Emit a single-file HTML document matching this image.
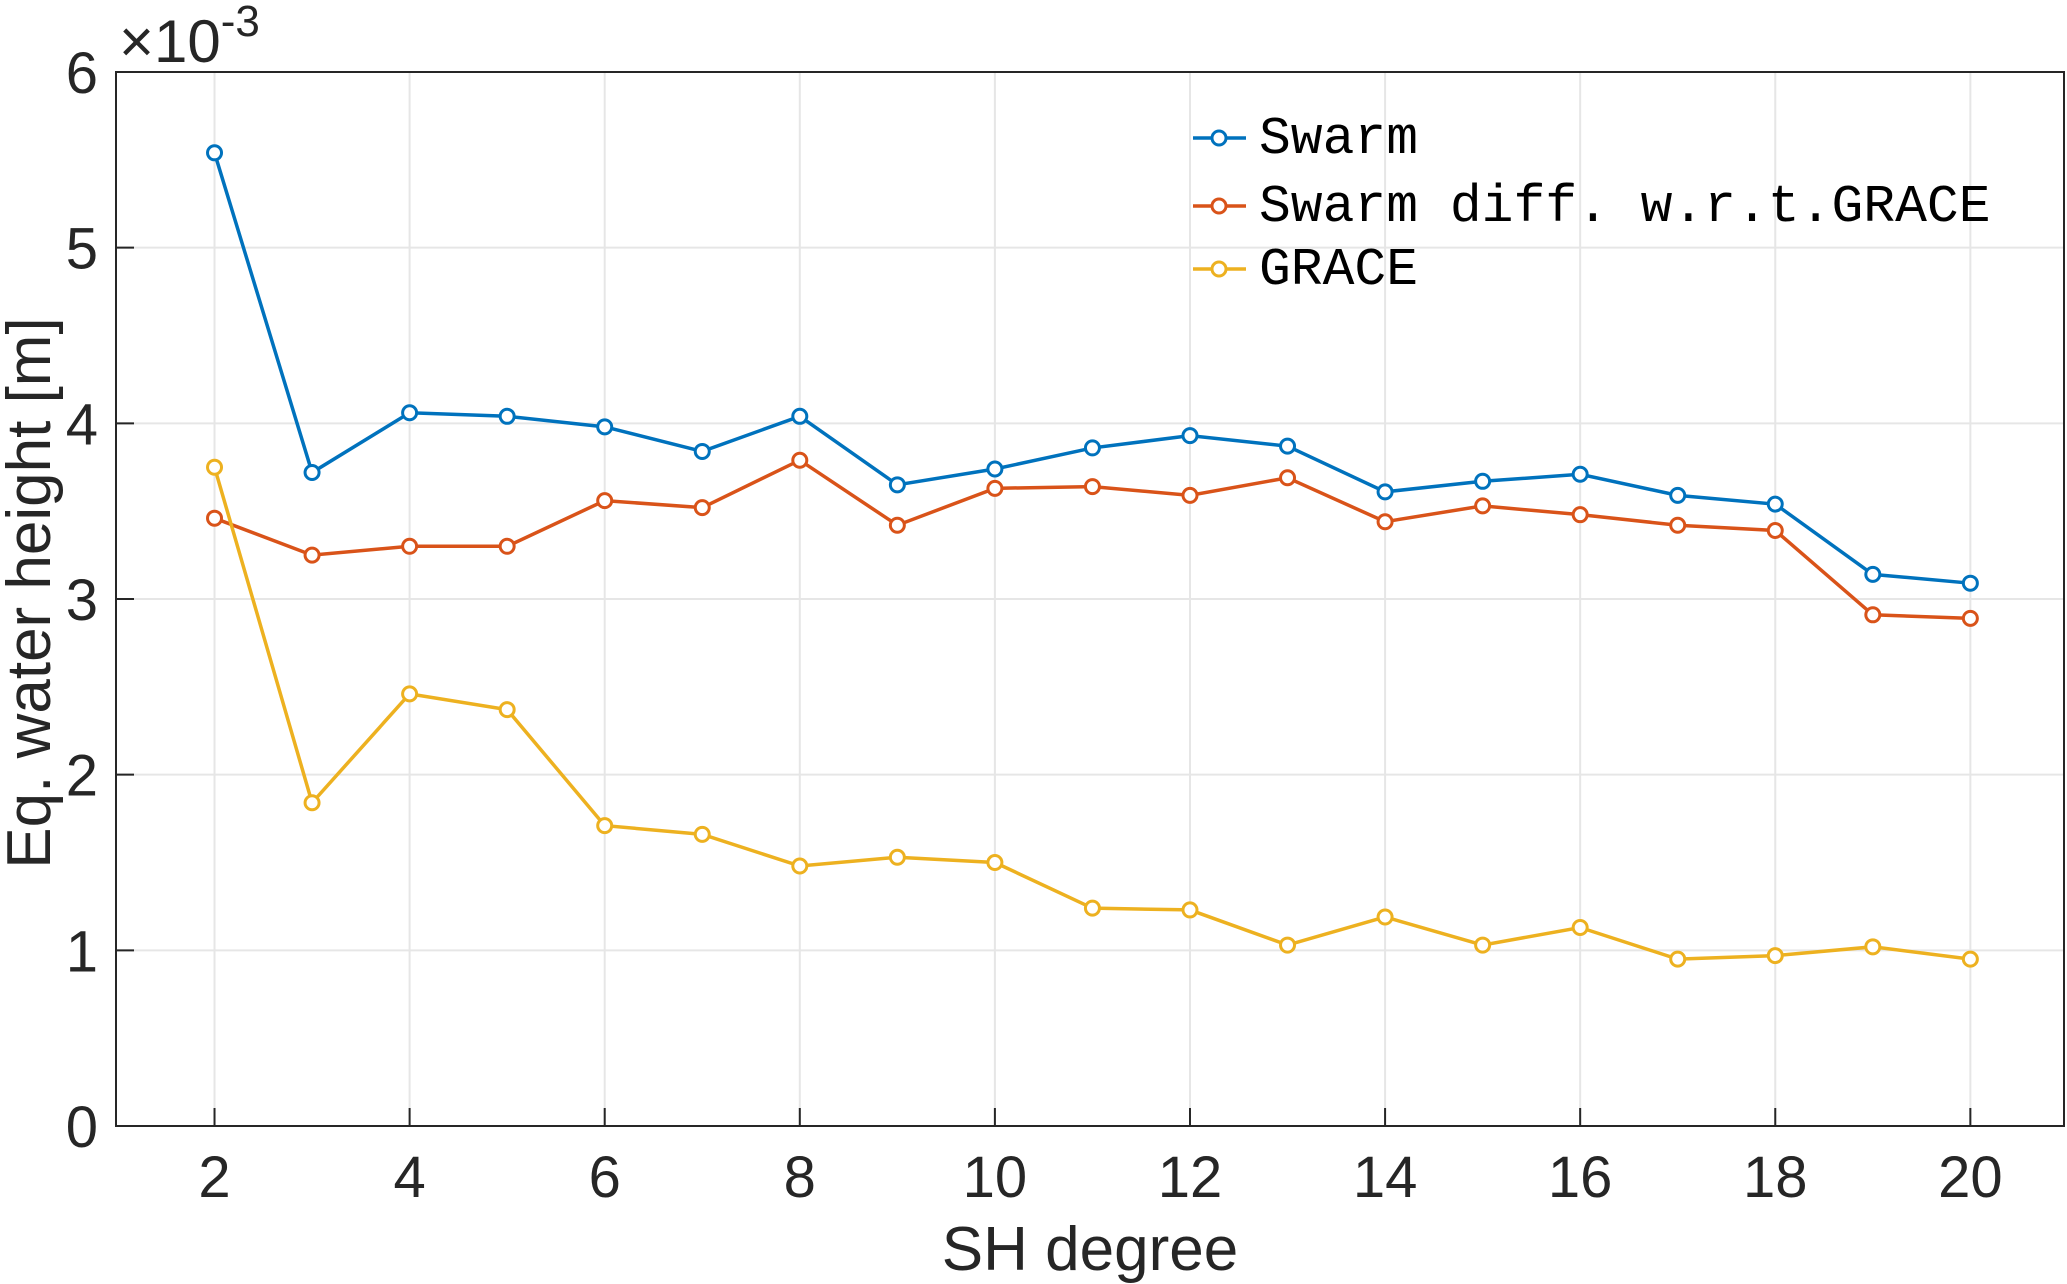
<!DOCTYPE html>
<html><head><meta charset="utf-8"><style>
html,body{margin:0;padding:0;background:#fff;}
svg{display:block;font-family:"Liberation Sans",Arial,sans-serif;}
</style></head><body>
<svg id="chart" width="2067" height="1284" viewBox="0 0 2067 1284" xmlns="http://www.w3.org/2000/svg">
<rect width="2067" height="1284" fill="#fff"/>
<g id="grid"></g>
<g id="axes"></g>
<g id="series"></g>
<g id="legend"></g>
<text x="119" y="62" font-size="60" fill="#262626">×10<tspan font-size="44" dy="-26">-3</tspan></text>
<text x="1090" y="1270" font-size="62" fill="#262626" text-anchor="middle">SH degree</text>
<text x="0" y="0" font-size="62" fill="#262626" text-anchor="middle" transform="translate(50,593) rotate(-90)">Eq. water height [m]</text>
</svg>
<script>
const degrees=[2,3,4,5,6,7,8,9,10,11,12,13,14,15,16,17,18,19,20];
const swarm=[5.54,3.72,4.06,4.04,3.98,3.84,4.04,3.65,3.74,3.86,3.93,3.87,3.61,3.67,3.71,3.59,3.54,3.14,3.09];
const swarmDiff=[3.46,3.25,3.30,3.30,3.56,3.52,3.79,3.42,3.63,3.64,3.59,3.69,3.44,3.53,3.48,3.42,3.39,2.91,2.89];
const grace=[3.75,1.84,2.46,2.37,1.71,1.66,1.48,1.53,1.50,1.24,1.23,1.03,1.19,1.03,1.13,0.95,0.97,1.02,0.95];
const xTicks=[2,4,6,8,10,12,14,16,18,20];
const yTicks=[0,1,2,3,4,5,6];
const seriesNames=["Swarm","Swarm diff. w.r.t.GRACE","GRACE"];
const L=116,R=2064,T=72,B=1126,XMIN=0.99,XMAX=20.96,YMIN=0,YMAX=6;
const sx=v=>L+(v-XMIN)/(XMAX-XMIN)*(R-L);
const sy=v=>B-(v-YMIN)/(YMAX-YMIN)*(B-T);
const NS="http://www.w3.org/2000/svg";
function mk(tag,attrs,parent){const e=document.createElementNS(NS,tag);for(const k in attrs)e.setAttribute(k,attrs[k]);parent.appendChild(e);return e;}
const grid=document.getElementById('grid'),axes=document.getElementById('axes'),ser=document.getElementById('series'),leg=document.getElementById('legend');
xTicks.forEach(t=>{
 const g=mk('line',{x1:sx(t),x2:sx(t),y1:T,y2:B,stroke:'#e6e6e6','stroke-width':2},grid);
 
 
 const tk=mk('line',{x1:sx(t),x2:sx(t),y1:B,y2:B-18,stroke:'#262626','stroke-width':2},axes);
 
 
 const tx=mk('text',{x:sx(t),y:B+71,'font-size':58,fill:'#262626','text-anchor':'middle'},axes);
 tx.textContent=t;
 
 
});
yTicks.forEach(t=>{
 const g=mk('line',{x1:L,x2:R,y1:sy(t),y2:sy(t),stroke:'#e6e6e6','stroke-width':2},grid);
 
 
 const tk=mk('line',{x1:L,x2:L+18,y1:sy(t),y2:sy(t),stroke:'#262626','stroke-width':2},axes);
 
 
 const tx=mk('text',{x:L-18,y:sy(t)+21,'font-size':58,fill:'#262626','text-anchor':'end'},axes);
 tx.textContent=t;
 
 
});
const box=mk('rect',{x:L,y:T,width:R-L,height:B-T,fill:'none',stroke:'#262626','stroke-width':2},axes);


const colors=['#0072BD','#D95319','#EDB120'];
[swarm,swarmDiff,grace].forEach((arr,i)=>{
 const pts=arr.map((v,j)=>sx(degrees[j])+','+sy(v)).join(' ');
 const pl=mk('polyline',{points:pts,fill:'none',stroke:colors[i],'stroke-width':3.5},ser);
 
 
 arr.forEach((v,j)=>{
  const c=mk('circle',{cx:sx(degrees[j]),cy:sy(v),r:7,fill:'#fff',stroke:colors[i],'stroke-width':3},ser);
  
  
 });
 const ly=[138,206,269][i];
 const ll=mk('line',{x1:1193,x2:1246,y1:ly,y2:ly,stroke:colors[i],'stroke-width':3.5},leg);
 
 
 const lc=mk('circle',{cx:1219,cy:ly,r:7,fill:'#fff',stroke:colors[i],'stroke-width':3},leg);
 
 
 const lt=mk('text',{x:1259,y:ly+15,'font-size':53,fill:'#000','font-family':'"Liberation Mono",monospace'},leg);
 lt.textContent=seriesNames[i];
 
 
});
</script>
</body></html>
